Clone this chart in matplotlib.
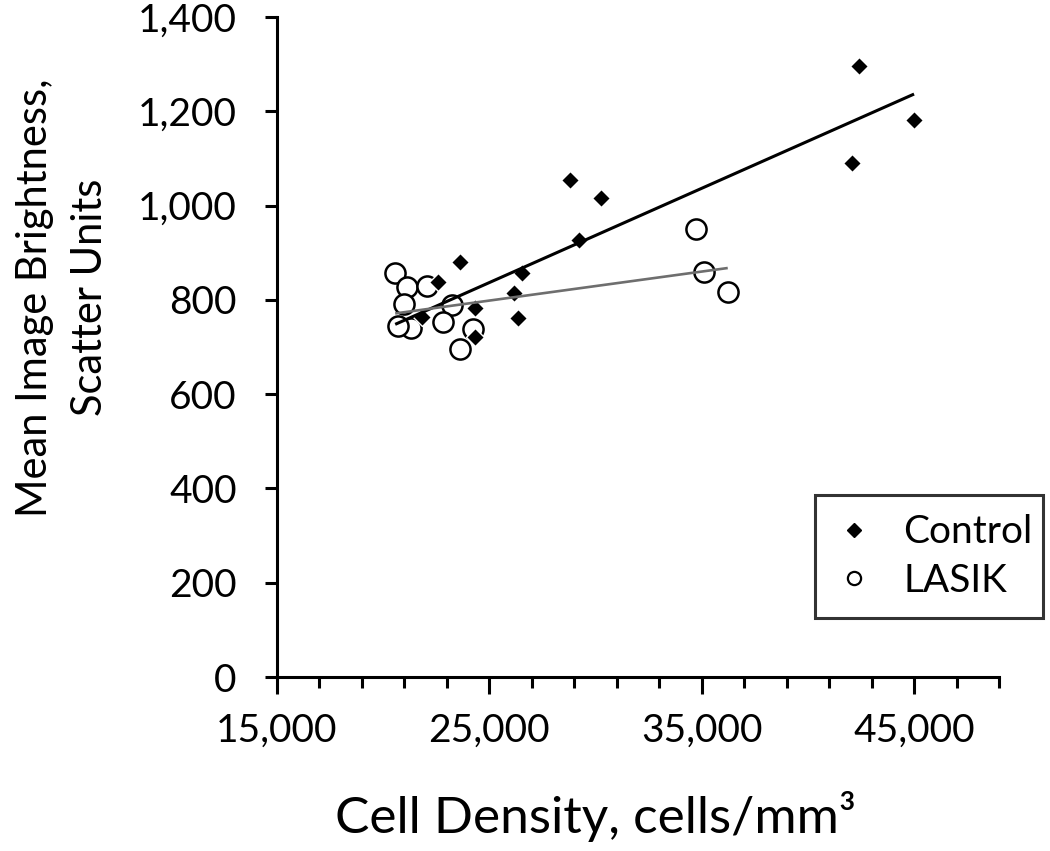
import numpy as np
import matplotlib
matplotlib.use("Agg")
import matplotlib.pyplot as plt
from matplotlib.lines import Line2D
from matplotlib.ticker import FixedLocator, StrMethodFormatter

# ------------------- DATA -------------------
control_density = [42400, 45000, 42075, 28820, 30236, 29200, 26560, 26180,
                   26370, 23630, 22600, 24340, 24340, 21840]
control_brightness = [1296, 1182, 1090, 1054, 1016, 927, 857, 815,
                      762, 880, 838, 783, 721, 764]

lasik_density = [20566, 21132, 22075, 20990, 23255, 21321, 20708, 22830,
                 24245, 23632, 34717, 35094, 36226]
lasik_brightness = [857, 827, 829, 791, 789, 740, 745, 753,
                    738, 696, 950, 859, 817]

series_names = ["Control", "LASIK"]

x_major = [15000, 25000, 35000, 45000]
x_minor = list(range(15000, 49001, 2000))
y_major = list(range(0, 1401, 200))

# ------------------- STYLE -------------------
plt.rcParams['font.family'] = ['Lato', 'DejaVu Sans']
AXIS_LW = 2.2


def trend(x, y, x_start):
    # linear least squares, drawn from x_start to the last point of the series
    slope, intercept = np.polyfit(x, y, 1)
    xs = np.array([x_start, max(x)])
    return xs, slope * xs + intercept


def main():
    fig = plt.figure(figsize=(10.5, 8.51), dpi=100)
    ax = fig.add_axes([277 / 1050, 1 - 677 / 851, 722 / 1050, 660 / 851])

    # LASIK circles underneath, control diamonds on top
    ax.plot(lasik_density, lasik_brightness, linestyle='none', marker='o',
            ms=14.5, mfc='white', mec='black', mew=1.8, zorder=2)
    ax.plot(control_density, control_brightness, linestyle='none', marker='D',
            ms=9.5, mfc='black', mec='white', mew=1.0, zorder=3)

    # linear trendlines
    x0 = min(min(control_density), min(lasik_density))
    tx, ty = trend(control_density, control_brightness, x0)
    ax.plot(tx, ty, color='black', lw=2.2, zorder=4, solid_capstyle='butt')
    tx, ty = trend(lasik_density, lasik_brightness, x0)
    ax.plot(tx, ty, color='#6e6e6e', lw=1.9, zorder=4, solid_capstyle='butt')

    ax.set_xlim(15000, 49000)
    ax.set_ylim(0, 1400)

    ax.xaxis.set_major_locator(FixedLocator(x_major))
    ax.xaxis.set_minor_locator(FixedLocator(x_minor))
    ax.yaxis.set_major_locator(FixedLocator(y_major))
    ax.xaxis.set_major_formatter(StrMethodFormatter('{x:,.0f}'))
    ax.yaxis.set_major_formatter(StrMethodFormatter('{x:,.0f}'))

    for side in ['top', 'right']:
        ax.spines[side].set_visible(False)
    for side in ['left', 'bottom']:
        ax.spines[side].set_linewidth(AXIS_LW)

    ax.tick_params(axis='x', which='major', direction='out', length=12,
                   width=AXIS_LW, labelsize=28, pad=14)
    ax.tick_params(axis='x', which='minor', direction='out', length=8,
                   width=AXIS_LW)
    ax.tick_params(axis='y', which='major', direction='out', length=9,
                   width=AXIS_LW, labelsize=28, pad=20)

    ax.set_ylabel("Mean Image Brightness,\nScatter Units", fontsize=30,
                  multialignment='center', linespacing=1.55)
    ax.yaxis.set_label_coords(-0.232, 0.575)

    fig.text(0.567, 0.040, "Cell Density, cells/mm³", fontsize=37,
             ha='center', va='center')

    handles = [
        Line2D([], [], linestyle='none', marker='D', ms=7.5, mfc='black',
               mec='black'),
        Line2D([], [], linestyle='none', marker='o', ms=9.5, mfc='white',
               mec='black', mew=1.6),
    ]
    leg = ax.legend(handles, series_names, loc='upper left',
                    bbox_to_anchor=(0.745, 0.089, 0.316, 0.187), mode='expand',
                    fontsize=28, frameon=True, fancybox=False,
                    handlelength=1.0, handletextpad=0.77, borderpad=0.5,
                    labelspacing=0.32, borderaxespad=0)
    leg.get_frame().set_edgecolor('black')
    leg.get_frame().set_linewidth(AXIS_LW)

    fig.savefig("out.png", dpi=100)
    plt.close(fig)


if __name__ == "__main__":
    main()
